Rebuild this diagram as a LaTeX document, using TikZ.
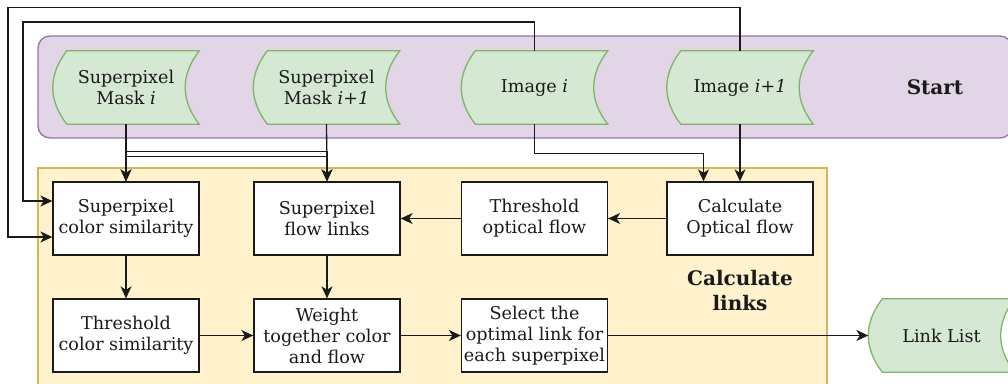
\documentclass[tikz,border=0pt]{standalone}
\usepackage{fontspec}
\setmainfont{DejaVu Serif}
\usetikzlibrary{arrows.meta,calc}
\pgfdeclarelayer{bg}
\pgfdeclarelayer{mid}
\pgfsetlayers{bg,mid,main}
\definecolor{storefill}{HTML}{D5E8D4}
\definecolor{storeline}{HTML}{82B366}
\definecolor{startfill}{HTML}{E1D5E7}
\definecolor{startline}{HTML}{9673A6}
\definecolor{linkfill}{HTML}{FFF2CC}
\definecolor{linkline}{HTML}{D6B656}
\definecolor{ink}{HTML}{1A1A1A}
\newcommand\fs{\fontsize{17.6}{21}\selectfont}
\newcommand\bfs{\fontsize{20}{25}\selectfont\bfseries}
\tikzset{
  box/.style={draw=ink, line width=1.3pt, fill=white, minimum width=146pt, minimum height=73pt, inner sep=0pt, align=center, font=\fs, text=ink},
  store/.style={minimum width=146pt, minimum height=73pt, inner sep=0pt, align=center, font=\fs, text=ink},
  storeshape/.style={draw=storeline, fill=storefill, line width=1.3pt},
  arr/.style={draw=ink, line width=1.3pt, -{Stealth[length=12pt,width=11pt,inset=3.5pt]}},
  title/.style={font=\bfs, align=center, text=ink},
}
\newcommand\drawstore[1]{%
  \draw[storeshape] ($(#1.north west)+(14,0)$) -- (#1.north east)
    .. controls ($(#1.north east)+(-18.7,24.3)$) and ($(#1.south east)+(-18.7,-24.3)$) .. (#1.south east)
    -- ($(#1.south west)+(14,0)$)
    .. controls ($(#1.south west)+(-4.7,-24.3)$) and ($(#1.north west)+(-4.7,24.3)$) .. cycle;}
\begin{document}
\begin{tikzpicture}[x=1pt,y=-1pt]
\useasboundingbox (0,0) rectangle (1008,383);
% panels
\begin{pgfonlayer}{bg}
  \draw[fill=startfill, draw=startline, line width=1.3pt, rounded corners=12pt] (38,36) rectangle (1012,138);
  \draw[fill=linkfill, draw=linkline, line width=1.3pt] (38,168) rectangle (827,400);
\end{pgfonlayer}
% stores
\node[store] (m1) at (126,87.5) {Superpixel\\Mask \textit{i}};
\node[store] (m2) at (326.5,87.5) {Superpixel\\Mask \textit{i+1}};
\node[store] (im1) at (534.5,87.5) {Image \textit{i}};
\node[store] (im2) at (740,87.5) {Image \textit{i+1}};
\node[store] (ll) at (941.5,335.5) {Link List};
\begin{pgfonlayer}{mid}
  \drawstore{m1}
  \drawstore{m2}
  \drawstore{im1}
  \drawstore{im2}
  \drawstore{ll}
\end{pgfonlayer}
\node[title] (start) at (935,87.5) {Start};
\node[title] (calc) at (740,291) {Calculate\\links};
% boxes
\node[box] (csim) at (126,218.5) {Superpixel\\color similarity};
\node[box] (flinks) at (327,218.5) {Superpixel\\flow links};
\node[box] (thof) at (534.5,218.5) {Threshold\\optical flow};
\node[box] (cof) at (740,218.5) {Calculate\\Optical flow};
\node[box] (thcs) at (126,335.5) {Threshold\\color similarity};
\node[box] (wt) at (327,335.5) {Weight\\together color\\and flow};
\node[box] (sel) at (534.5,335.5) {Select the\\optimal link for\\each superpixel};
% connectors
\coordinate (la) at (23,22);
\coordinate (lb) at (8,7.5);
\draw[arr] (m1.south) -- (csim.north);
\draw[arr] (m1.south) -- ++(0,27) -| (flinks.north);
\draw[arr] (m2.south) -- ++(0,32) -| (csim.north);
\draw[arr] (m2.south) -- (flinks.north);
\draw[arr] (im1.north) |- (la) |- ($(csim.west)+(0,-17.5)$);
\draw[arr] (im2.north) |- (lb) |- ($(csim.west)+(0,18.5)$);
\draw[arr] (im1.south) -- ++(0,29) -| ($(cof.north)+(-36.5,0)$);
\draw[arr] (im2.south) -- (cof.north);
\draw[arr] (cof) -- (thof);
\draw[arr] (thof) -- (flinks);
\draw[arr] (csim) -- (thcs);
\draw[arr] (flinks) -- (wt);
\draw[arr] (thcs) -- (wt);
\draw[arr] (wt) -- (sel);
\draw[arr] (sel) -- (ll);
\end{tikzpicture}
\end{document}
